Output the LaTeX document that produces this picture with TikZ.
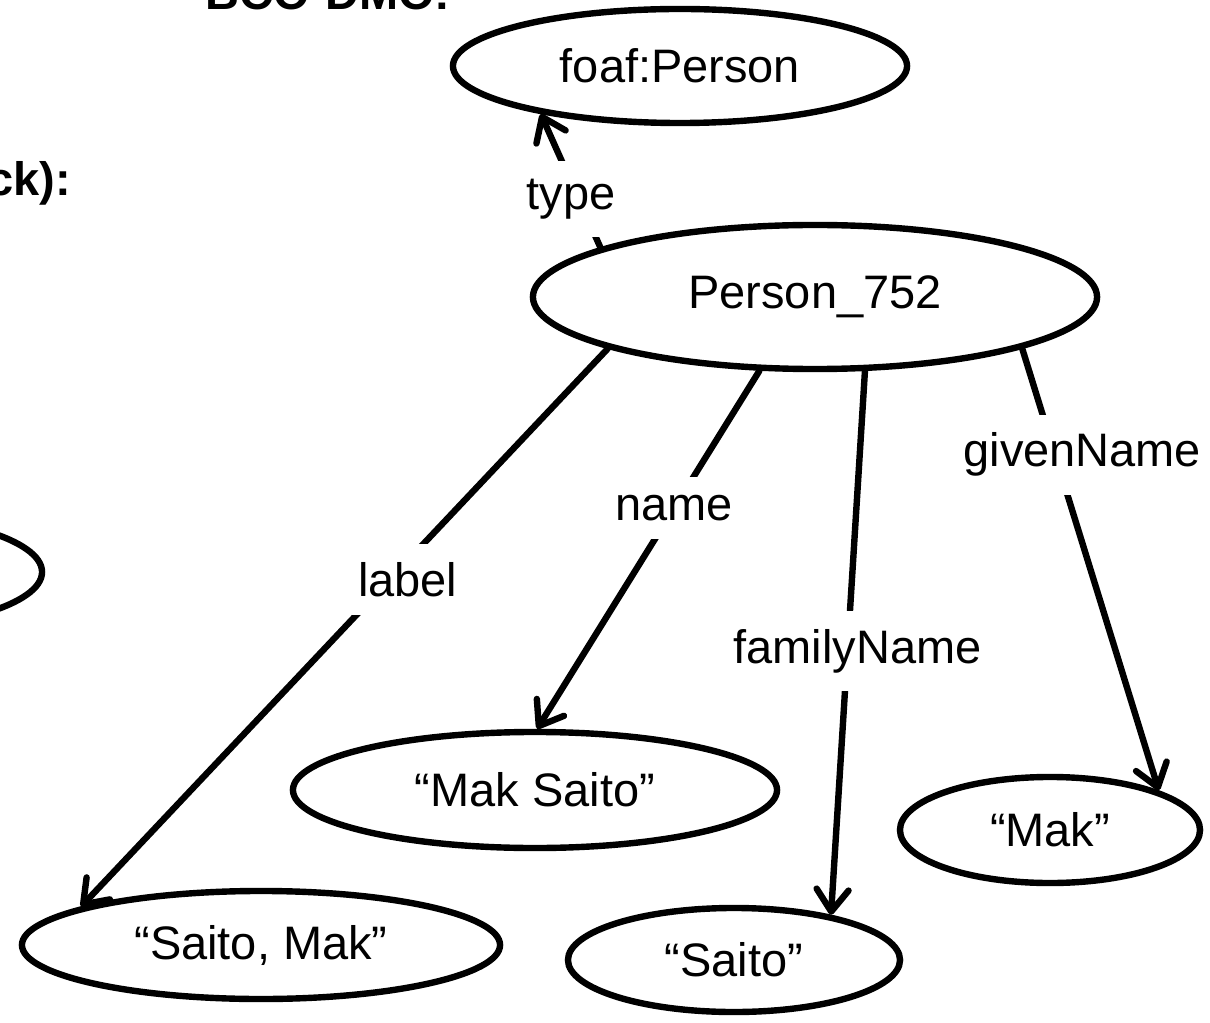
\documentclass[tikz,border=0pt]{standalone}
\usepackage{fontspec}
\setmainfont{Liberation Sans}
\usetikzlibrary{arrows.meta, shapes.geometric}
\newcommand{\rdffont}{\fontsize{33.4}{40}\selectfont}

\begin{document}
\begin{tikzpicture}[
    x=0.025cm, y=-0.025cm,
    res/.style={draw, ellipse, line width=0.16cm, inner sep=0pt, font=\rdffont},
    lit/.style={res},
    lbl/.style={fill=white, font=\rdffont, inner xsep=0.15cm, inner ysep=0.45cm},
    title/.style={font=\rdffont\bfseries, inner sep=0pt},
    arr/.style={-{Straight Barb[length=0.55cm, width=0.8cm, round]}, line width=0.16cm, line cap=round},
]
\useasboundingbox (0,0) rectangle (1210,1023);
\clip (0,0) rectangle (1210,1023);

% slide titles, cut by the frame
\node[title, anchor=base west] (org) at (205, 10) {BCO-DMO:};
\node[title, anchor=base east] (stack) at (71, 196) {ck):};

% resources
\node[res, minimum width=11.35cm, minimum height=2.85cm] (foaf) at (680, 66) {foaf:Person};
\node[res, minimum width=14.1cm, minimum height=3.6cm] (p752) at (815, 297) {Person\_752};
\node[res, minimum width=9.6cm, minimum height=2.9cm] (ds) at (-150, 572) {};

% literals
\node[lit, minimum width=12.1cm, minimum height=2.9cm] (fullname) at (535, 790) {“Mak Saito”};
\node[lit, minimum width=11.95cm, minimum height=2.7cm] (rdflabel) at (261, 945) {“Saito, Mak”};
\node[lit, minimum width=8.3cm, minimum height=2.6cm] (family) at (734, 960) {“Saito”};
\node[lit, minimum width=7.5cm, minimum height=2.65cm] (given) at (1050, 830) {“Mak”};

% properties
\draw[arr] (p752.167) -- node[lbl, pos=0.36, xshift=-0.2cm] {type} (foaf.199);
\draw[arr] (p752.194) -- node[lbl, pos=0.414, xshift=0.45cm, inner xsep=0.35cm] {label} (rdflabel.168);
\draw[arr] (p752.233) -- node[lbl, pos=0.383] {name} (fullname.88);
\draw[arr] (p752.304) -- node[lbl, pos=0.515, xshift=0.25cm] {familyName} (family.25);
\draw[arr] (p752.346) -- node[lbl, pos=0.24, xshift=0.68cm] {givenName} (given.20);

\end{tikzpicture}
\end{document}
